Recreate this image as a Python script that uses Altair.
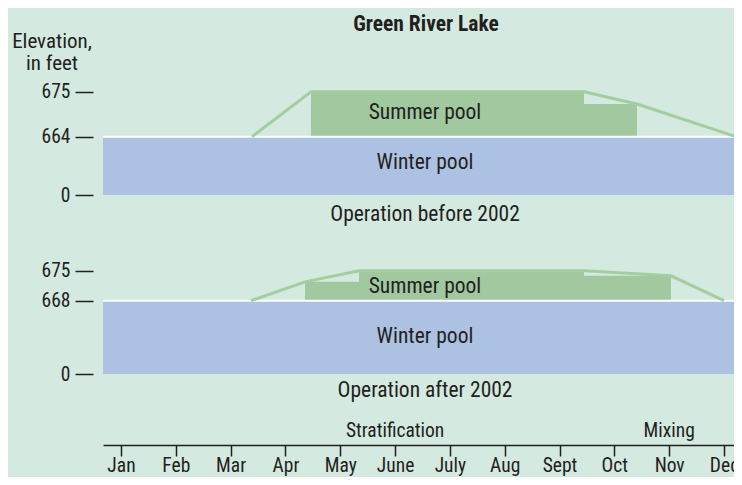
import altair as alt
import pandas as pd

# ---------------- data ----------------
months = ["Jan", "Feb", "Mar", "Apr", "May", "June", "July", "Aug", "Sept", "Oct", "Nov", "Dec"]
month_num = list(range(1, 13))
x_domain = [0.672, 12.1825]          # months (Jan = 1)

# Operation before 2002
before_levels = [0, 664, 675]
winter_before_x = [0.672, 12.24]
winter_before_y = [0, 664]
summer_before_x0 = [4.466, 9.446]
summer_before_x1 = [9.446, 10.413]
summer_before_top = [675, 672]
summer_before_base = 664
line_before_x = [3.39, 4.466, 9.446, 10.413, 12.22]
line_before_y = [664, 675, 675, 672, 664]

# Operation after 2002
after_levels = [0, 668, 675]
winter_after_x = [0.672, 12.24]
winter_after_y = [0, 668]
summer_after_x0 = [4.357, 5.342, 9.446]
summer_after_x1 = [5.342, 9.446, 11.033]
summer_after_top = [672.4, 675, 673.8]
summer_after_base = 668
line_after_x = [3.37, 4.357, 5.342, 9.446, 11.033, 12.0]
line_after_y = [668, 672.4, 675, 675, 673.8, 668]

pool_names = ["Summer pool", "Winter pool"]
captions = ["Operation before 2002", "Operation after 2002"]
phases = ["Stratification", "Mixing"]
phase_x = [6, 11]
title_text = "Green River Lake"
y_title = "Elevation,\nin feet"

# ---------------- style ----------------
FONT = "Roboto Condensed"
BG = "#d4e9df"
BLUE = "#adc1e3"
GREEN_FILL = "#a1c89f"
GREEN_LINE = "#a3ce9f"
DARK = "#231f20"

xs = alt.Scale(domain=x_domain, nice=False, zero=False)
ys_top = alt.Scale(domain=before_levels, range=[187, 128.7, 83.7], nice=False, zero=False)
ys_bot = alt.Scale(domain=after_levels, range=[366, 292.7, 262.7], nice=False, zero=False)

label_expr = "[" + ",".join("'%s'" % m for m in months) + "][datum.value - 1]"
x_axis = alt.Axis(values=month_num, labelExpr=label_expr, title=None, grid=False,
                  domainColor=DARK, domainWidth=1.5, tickColor=DARK, tickWidth=1.5,
                  tickSize=11, labelFont=FONT, labelFontSize=19.5, labelColor=DARK,
                  labelPadding=0, labelOverlap=False, labelFlush=False)


def y_axis(vals):
    return alt.Axis(values=vals, orient="left", offset=10, tickSize=18, tickWidth=1.5,
                    tickColor=DARK, domain=False, grid=False, title=None, format="d",
                    labelFont=FONT, labelFontSize=19.5, labelColor=DARK, labelPadding=5,
                    labelOverlap=False)


def panel(levels, ys, wx, wy, sx0, sx1, stop, sbase, lx, ly, pool_y, cap_y, caption):
    ya = y_axis(levels)
    winter = pd.DataFrame({"x0": [wx[0]], "x1": [wx[1]], "y0": [wy[0]], "y1": [wy[1]]})
    summer = pd.DataFrame({"x0": sx0, "x1": sx1, "y0": [sbase] * len(sx0), "y1": stop})
    line = pd.DataFrame({"x": lx, "y": ly, "o": list(range(len(lx)))})
    rule = pd.DataFrame({"x0": [wx[0]], "x1": [wx[1]], "y": [wy[1]]})
    labels = pd.DataFrame({"t": pool_names + [caption]})

    w = alt.Chart(winter).mark_rect(color=BLUE).encode(
        x=alt.X("x0:Q", scale=xs, axis=x_axis), x2="x1:Q",
        y=alt.Y("y0:Q", scale=ys, axis=ya), y2="y1:Q")
    s = alt.Chart(summer).mark_rect(color=GREEN_FILL).encode(
        x=alt.X("x0:Q", scale=xs, axis=x_axis), x2="x1:Q",
        y=alt.Y("y0:Q", scale=ys, axis=ya), y2="y1:Q")
    r = alt.Chart(rule).mark_rule(color="white", strokeWidth=2).encode(
        x=alt.X("x0:Q", scale=xs, axis=x_axis), x2="x1:Q",
        y=alt.Y("y:Q", scale=ys, axis=ya))
    ln = alt.Chart(line).mark_line(color=GREEN_LINE, strokeWidth=3).encode(
        x=alt.X("x:Q", scale=xs, axis=x_axis),
        y=alt.Y("y:Q", scale=ys, axis=ya), order="o:Q")
    txt = []
    for i, yy in enumerate(pool_y + [cap_y]):
        txt.append(alt.Chart(labels.iloc[[i]]).mark_text(
            font=FONT, fontSize=21.5, color=DARK, align="center", baseline="middle").encode(
            x=alt.value(322), y=alt.value(yy), text="t:N"))
    return alt.layer(w, s, r, ln, *txt)


top = panel(before_levels, ys_top, winter_before_x, winter_before_y, summer_before_x0,
            summer_before_x1, summer_before_top, summer_before_base, line_before_x,
            line_before_y, [105, 155], 207, captions[0])
bot = panel(after_levels, ys_bot, winter_after_x, winter_after_y, summer_after_x0,
            summer_after_x1, summer_after_top, summer_after_base, line_after_x,
            line_after_y, [278.5, 329], 382.5, captions[1])

phase_df = pd.DataFrame({"x": phase_x, "t": phases})
phase = alt.Chart(phase_df).mark_text(font=FONT, fontSize=19.5, color=DARK,
                                      align="center", baseline="middle").encode(
    x=alt.X("x:Q", scale=xs, axis=x_axis), y=alt.value(423), text="t:N")

title_df = pd.DataFrame({"t": [title_text]})
title = alt.Chart(title_df).mark_text(font=FONT, fontSize=21.5, fontWeight="bold", color=DARK,
                                      align="center", baseline="middle").encode(
    x=alt.value(323), y=alt.value(17), text="t:N")

yt_df = pd.DataFrame({"t": [y_title]})
ytitle = alt.Chart(yt_df).mark_text(font=FONT, fontSize=21, color=DARK, align="center",
                                    baseline="middle", lineBreak="\n", lineHeight=21.5).encode(
    x=alt.value(-51), y=alt.value(34), text="t:N")

chart = alt.layer(top, bot, phase, title, ytitle).resolve_scale(y="independent").properties(
    width=631, height=437,
    autosize=alt.AutoSizeParams(type="none"),
    padding={"left": 95, "top": 0, "right": 0, "bottom": 32},
    background=BG,
).configure_view(stroke=None)

chart.save("out.html", embed_options={"renderer": "svg", "actions": False})
